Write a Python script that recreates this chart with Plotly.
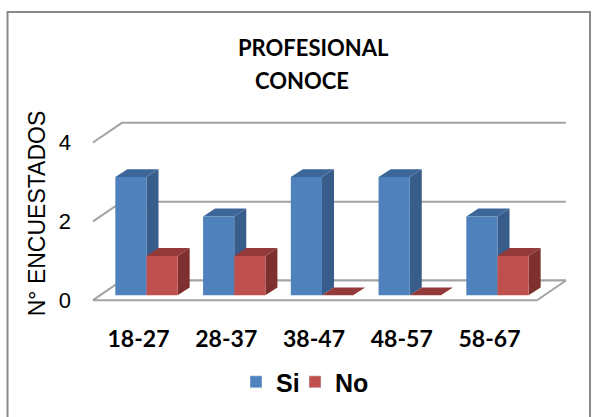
import plotly.graph_objects as go

# Survey data: professionals who know the topic, by age group
categories = ["18-27", "28-37", "38-47", "48-57", "58-67"]
si_values = [3, 2, 3, 3, 2]
no_values = [1, 1, 0, 0, 1]
y_ticks = [0, 2, 4]

# Pseudo-3D projection constants (x in category units, y in value units)
BAR_W = 0.355
FRONT_DX, FRONT_DY = 0.091, 0.125   # bars stand slightly behind the floor edge
DEPTH_DX, DEPTH_DY = 0.137, 0.2     # depth of each bar
WALL_DX, WALL_DY = 0.33, 0.5        # depth of the back wall
FLOOR_X0, FLOOR_X1 = -0.519, 4.541

SI_COLORS = ("#4F81BD", "#385D8A", "#3D6699")   # front, side, top
NO_COLORS = ("#C0504D", "#7E302E", "#94393A")
GRID = "#A3A3A3"


def bar_faces(values, left):
    """Polygons (front, side, top) for a series of 3D bars."""
    fx, fy, sx, sy, tx, ty = [], [], [], [], [], []
    for i, v in enumerate(values):
        x0 = i + FRONT_DX - (BAR_W if left else 0.0)
        x1 = x0 + BAR_W
        yb = FRONT_DY
        yt = FRONT_DY + v
        fx += [x0, x1, x1, x0, x0, None]
        fy += [yb, yb, yt, yt, yb, None]
        sx += [x1, x1 + DEPTH_DX, x1 + DEPTH_DX, x1, x1, None]
        sy += [yb, yb + DEPTH_DY, yt + DEPTH_DY, yt, yb, None]
        tx += [x0, x1, x1 + DEPTH_DX, x0 + DEPTH_DX, x0, None]
        ty += [yt, yt, yt + DEPTH_DY, yt + DEPTH_DY, yt, None]
    return (fx, fy), (sx, sy), (tx, ty)


def poly(xy, color):
    return go.Scatter(x=xy[0], y=xy[1], mode="lines", fill="toself",
                      fillcolor=color, line=dict(width=0, color=color),
                      showlegend=False, hoverinfo="skip")


fig = go.Figure()

# Back wall gridlines and side-wall diagonals
for v in y_ticks:
    fig.add_trace(go.Scatter(
        x=[FLOOR_X0, FLOOR_X0 + WALL_DX, FLOOR_X1 + WALL_DX],
        y=[v, v + WALL_DY, v + WALL_DY],
        mode="lines", line=dict(color=GRID, width=2),
        showlegend=False, hoverinfo="skip"))

# Floor
fig.add_trace(go.Scatter(
    x=[FLOOR_X0, FLOOR_X1, FLOOR_X1 + WALL_DX, FLOOR_X0 + WALL_DX, FLOOR_X0],
    y=[0, 0, WALL_DY, WALL_DY, 0],
    mode="lines", fill="toself", fillcolor="white",
    line=dict(color=GRID, width=2), showlegend=False, hoverinfo="skip"))

# Bars: "Si" on the left of each pair, "No" on the right
for values, left, colors in ((si_values, True, SI_COLORS),
                             (no_values, False, NO_COLORS)):
    front, side, top = bar_faces(values, left)
    fig.add_trace(poly(side, colors[1]))
    fig.add_trace(poly(top, colors[2]))
    fig.add_trace(poly(front, colors[0]))

# Legend entries (one legend box per series for tighter spacing)
fig.add_trace(go.Bar(x=[None], y=[None], name="Si", marker_color=SI_COLORS[0],
                     legend="legend"))
fig.add_trace(go.Bar(x=[None], y=[None], name="No", marker_color=NO_COLORS[0],
                     legend="legend2"))

W, H = 594, 417
L, R, T, B = 80, 14, 110, 97


def px(x):
    return (x - L) / (W - L - R)


def py(y):
    return (H - B - y) / (H - T - B)


title_font = dict(family="Lato", size=22, color="black", weight="bold")
fig.add_annotation(text="PROFESIONAL", x=px(313), y=py(47), xref="paper", yref="paper",
                   showarrow=False, font=title_font, xanchor="center", yanchor="middle")
fig.add_annotation(text="CONOCE", x=px(302), y=py(80), xref="paper", yref="paper",
                   showarrow=False, font=title_font, xanchor="center", yanchor="middle")

# Chart border
fig.add_shape(type="rect", xref="paper", yref="paper",
              x0=px(7.5), x1=px(590), y0=py(425), y1=py(10.5),
              line=dict(color="#8A8A8A", width=2))

legend_font = dict(family="Liberation Sans", size=25, color="black", weight="bold")
fig.update_layout(
    width=W, height=H,
    margin=dict(l=L, r=R, t=T, b=B),
    paper_bgcolor="white", plot_bgcolor="white",
    showlegend=True,
    legend=dict(orientation="h", x=px(236), xanchor="left",
                y=py(386), yanchor="middle", bgcolor="rgba(0,0,0,0)",
                font=legend_font),
    legend2=dict(orientation="h", x=px(295), xanchor="left",
                 y=py(386), yanchor="middle", bgcolor="rgba(0,0,0,0)",
                 font=legend_font),
    xaxis=dict(range=[(L - 138.5) / 87.75, (W - R - 138.5) / 87.75],
               tickvals=list(range(len(categories))), ticktext=categories,
               showgrid=False, zeroline=False, showline=False,
               tickfont=dict(family="Lato", size=23, color="black", weight="bold"),
               ticklabelstandoff=6),
    yaxis=dict(range=[-0.425, 4.825], tickvals=y_ticks,
               showgrid=False, zeroline=False, showline=False,
               tickfont=dict(family="Liberation Sans", size=22, color="black"),
               ticklabelstandoff=8,
               title=dict(text="N° ENCUESTADOS", standoff=6,
                          font=dict(family="Liberation Sans", size=23, color="black"))),
)

fig.write_html("out.html")
